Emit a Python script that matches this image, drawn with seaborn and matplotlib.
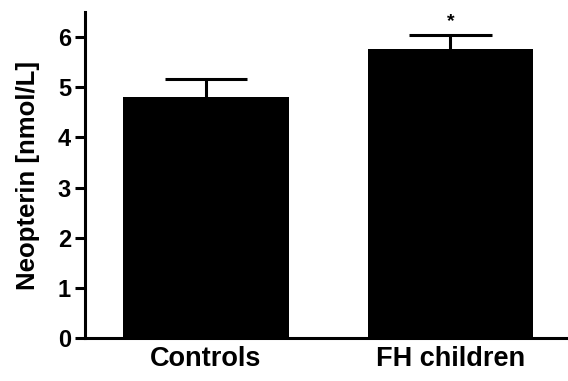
import numpy as np
import pandas as pd
import matplotlib
matplotlib.use("Agg")
import matplotlib.pyplot as plt
import seaborn as sns

groups = ["Controls", "FH children"]
means = [4.80, 5.76]
sem = [0.36, 0.29]
signif = ["", "*"]

sns.set_theme(style="ticks", rc={"axes.edgecolor": "black", "text.color": "black",
                                 "axes.labelcolor": "black", "xtick.color": "black",
                                 "ytick.color": "black"})
plt.rcParams['font.family'] = ['Liberation Sans', 'DejaVu Sans']
plt.rcParams['font.weight'] = 'bold'

df = pd.DataFrame({"group": groups, "value": means})

fig = plt.figure(figsize=(5.68, 3.81), dpi=100)
ax = fig.add_axes([0.1496, 0.1129, 0.848, 0.8556])

sns.barplot(data=df, x="group", y="value", color="black", width=0.678,
            edgecolor="black", linewidth=0, ax=ax)

xs = np.arange(len(groups))
tops = np.array(means) + np.array(sem)
ax.vlines(xs, means, tops, color="black", linewidth=2.2)
ax.hlines(tops, xs - 0.168, xs + 0.168, color="black", linewidth=2.2)
for x, t, s in zip(xs, tops, signif):
    if s:
        ax.text(x, t + 0.08, s, ha="center", va="bottom", fontsize=14, fontweight="bold")

ax.set_ylim(0, 6.5)
ax.set_xlim(-0.494, 1.475)
ax.set_yticks(range(0, 7))
ax.set_xlabel("")
ax.set_ylabel("Neopterin [nmol/L]", fontsize=18.5, fontweight="bold", labelpad=13)
ax.tick_params(axis="y", length=7, width=2.2, labelsize=17, pad=3)
ax.tick_params(axis="x", length=0, labelsize=19.5, pad=6)
for lab in ax.get_xticklabels() + ax.get_yticklabels():
    lab.set_fontweight("bold")
sns.despine(ax=ax)
for sp in ["left", "bottom"]:
    ax.spines[sp].set_linewidth(2.2)

fig.savefig("out.png", dpi=100)
